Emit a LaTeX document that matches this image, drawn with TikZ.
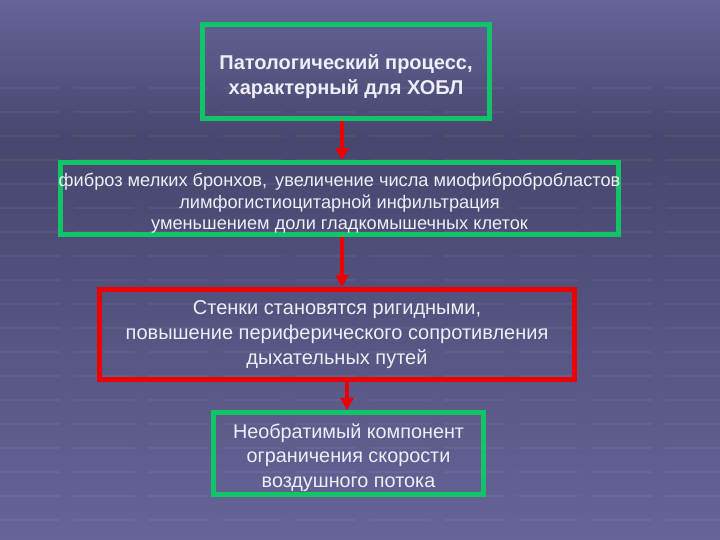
\documentclass[tikz,border=0pt]{standalone}
\usepackage{fontspec}
\setmainfont{Liberation Sans}
\usetikzlibrary{arrows.meta}
\definecolor{SlateLight}{RGB}{102,100,152}
\definecolor{SlateDark}{RGB}{70,70,110}
\definecolor{BoxGreen}{RGB}{18,196,104}
\definecolor{BoxRed}{RGB}{236,0,0}
\definecolor{TextWhite}{RGB}{238,238,246}
\tikzset{
  box/.style={draw, line width=5pt, rectangle, inner sep=0pt},
  greenbox/.style={box, draw=BoxGreen},
  redbox/.style={box, draw=BoxRed},
  boxtext/.style={align=center, inner sep=0pt, text=TextWhite},
  link/.style={draw=BoxRed, line width=4pt, -{Triangle[width=13pt,length=12pt]}}
}

\begin{document}
\begin{tikzpicture}[x=1pt,y=1pt]
\coordinate (SW) at (0,0);
\coordinate (NE) at (720,540);
\coordinate (Band) at (720,400);
\useasboundingbox (SW) rectangle (NE);
\shade[top color=SlateDark, bottom color=SlateLight] (SW) rectangle (Band);
\shade[top color=SlateLight, bottom color=SlateDark] (0,400) rectangle (NE);

%%faint stripes
\foreach \y in {20,44,...,470}{
\draw[white, opacity=0.05, line width=2pt, dash pattern=on 60pt off 14pt] (0,\y) -- (720,\y);
}

\node[greenbox, minimum width=287pt, minimum height=94pt] (Process) at (346,468.5) {};
\node[boxtext, font=\bfseries\fontsize{20}{25}\selectfont] (ProcessText) at ([yshift=-5pt]Process.center)
  {Патологический процесс,\\ характерный для ХОБЛ};

\node[greenbox, minimum width=558pt, minimum height=72pt] (Fibrosis) at (339.5,341.5) {};
\node[boxtext, font=\fontsize{18.2}{21.5}\selectfont] (FibrosisText) at ([yshift=-5pt]Fibrosis.center)
  {фиброз мелких бронхов,\, увеличение числа миофибробробластов\\
  лимфогистиоцитарной инфильтрация\\ уменьшением доли гладкомышечных клеток};

\node[redbox, minimum width=475pt, minimum height=90pt] (Walls) at (337,205.5) {};
\node[boxtext, font=\fontsize{20}{25}\selectfont] (WallsText) at (Walls.center)
  {Стенки становятся ригидными,\\ повышение периферического сопротивления\\ дыхательных путей};

\node[greenbox, minimum width=270pt, minimum height=82pt] (Component) at (348.5,86.5) {};
\node[boxtext, font=\fontsize{19.8}{24.5}\selectfont] (ComponentText) at ([yshift=-4pt]Component.center)
  {Необратимый компонент\\ ограничения скорости\\ воздушного потока};

\draw[link] ([xshift=-4pt]Process.south) -- ([xshift=2.5pt]Fibrosis.north);
\draw[link] ([xshift=2.5pt]Fibrosis.south) -- ([xshift=5pt]Walls.north);
\draw[link] ([xshift=10pt]Walls.south) -- ([xshift=-1.5pt]Component.north);
\end{tikzpicture}
\end{document}
